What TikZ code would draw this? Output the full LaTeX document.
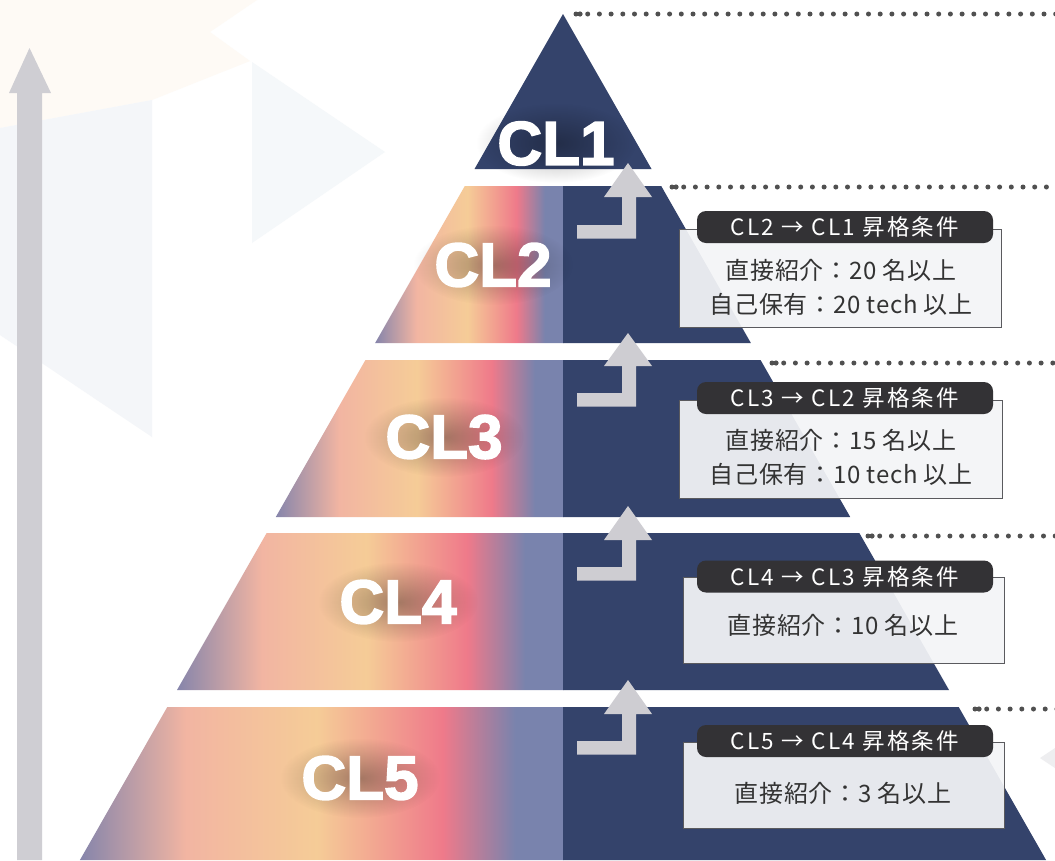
\documentclass[tikz,border=0pt]{standalone}
\usepackage{fontspec}
\setmainfont{Liberation Sans}
\newfontfamily\jp{Noto Sans CJK JP}
\newfontfamily\jphead{Noto Sans CJK JP}[LetterSpace=10]
\newfontfamily\jpbody{Noto Sans CJK JP}[LetterSpace=3]
\newfontfamily\clfont{Liberation Sans Bold}[FakeBold=2.5]
\usetikzlibrary{fadings,calc}
\definecolor{navy}{HTML}{34436B}
\definecolor{gL}{HTML}{8685AB}
\definecolor{gP}{HTML}{F2B5A2}
\definecolor{gY}{HTML}{F5CC97}
\definecolor{gR}{HTML}{EF7A8A}
\definecolor{gB}{HTML}{7983AD}
\definecolor{arrowgray}{HTML}{CECDD2}
\definecolor{biggray}{HTML}{CFCED3}
\definecolor{pillc}{HTML}{333235}
\definecolor{boxfill}{HTML}{F4F5F7}
\definecolor{boxline}{HTML}{5A5A5E}
\definecolor{txt}{HTML}{333333}
\definecolor{dotc}{HTML}{505050}
\definecolor{bgpeach}{HTML}{FEFAF5}
\definecolor{bgblue}{HTML}{F5F8FA}
\definecolor{bgblue2}{HTML}{F4F6F9}
\definecolor{bggray}{HTML}{EEEEF0}
\pgfdeclarehorizontalshading{bandgrad}{100bp}{color(0bp)=(gL); color(25bp)=(gL); color(36bp)=(gP); color(49.5bp)=(gY); color(62.5bp)=(gR); color(70bp)=(gB); color(75bp)=(gB); color(100bp)=(gB)}
\tikzfading[name=glow, inner color=transparent!68, outer color=transparent!100]
\begin{document}
\begin{tikzpicture}[x=1pt,y=-1pt,
  cl/.style={text=white, font=\clfont\fontsize{62}{62}\selectfont, inner sep=0pt},
  pill/.style={fill=pillc, rounded corners=9pt, minimum width=296pt, minimum height=32pt, inner sep=0pt, text=white, font=\jphead\fontsize{22.5}{22.5}\selectfont},
  infobox/.style={fill=boxfill, fill opacity=0.93, draw=boxline, line width=0.9pt, inner sep=0pt},
  body/.style={text=txt, font=\jpbody\fontsize{24}{24}\selectfont, inner sep=0pt},
  dotline/.style={dotc, line width=5pt, line cap=round, dash pattern=on 0pt off 11.7pt},
  grayarrow/.style={fill=arrowgray}]
\useasboundingbox (0,0) rectangle (1055,860);
\clip (0,0) rectangle (1055,860);
\fill[white] (0,0) rectangle (1055,860);
% faint background shapes
\fill[bgpeach] (0,0) -- (257,0) -- (210,32) -- (250,61) -- (152,100) -- (0,128) -- cycle;
\fill[bgblue] (252,62) -- (385,152) -- (252,243) -- cycle;
\fill[bgblue2] (0,128) -- (152,100) -- (152,437) -- (0,335) -- cycle;
\fill[bggray] (1040,758) -- (1055,748) -- (1055,768) -- cycle;
% big vertical arrow
\fill[biggray] (17,860) -- (17,93) -- (9,93) -- (29.5,48) -- (51,93) -- (42,93) -- (42,860) -- cycle;
% pyramid top
\fill[navy] (563,14) -- (651.5,169) -- (474.5,169) -- cycle;
% bands
\foreach \t/\b in {186/343,360/517,533/690,707/860} {
  \pgfmathsetmacro\lt{563-0.571*(\t-14)}
  \pgfmathsetmacro\lb{563-0.571*(\b-14)}
  \pgfmathsetmacro\rt{563+0.571*(\t-14)}
  \pgfmathsetmacro\rb{563+0.571*(\b-14)}
  \shade[shading=bandgrad] (\lb,\b) -- (\lt,\t) -- (563.5,\t) -- (563.5,\b) -- cycle;
  \fill[navy] (563,\t) -- (\rt,\t) -- (\rb,\b) -- (563,\b) -- cycle;
}
% glows behind labels
\foreach \x/\y in {556/143,493/265,444/437,398/602,360/778}
  \fill[black, path fading=glow] (\x,\y) ellipse (80pt and 40pt);
% labels
\node[cl] (cl1) at (556,143.5) {CL1};
\node[cl] (cl2) at (493,265) {CL2};
\node[cl] (cl3) at (444,437) {CL3};
\node[cl] (cl4) at (398,602) {CL4};
\node[cl] (cl5) at (360,778) {CL5};
% L-shaped arrows
\foreach \tip/\base/\bar in {163/197/225,333/366/393,506/540/567,680/714/741} {
  \pgfmathsetmacro\bb{\bar+13.5}
  \fill[grayarrow] (577,\bar) -- (622,\bar) -- (622,\base) -- (604,\base) -- (628,\tip) -- (652,\base) -- (636,\base) -- (636,\bb) -- (577,\bb) -- cycle;
}
% dotted lines
\foreach \i/\x/\y in {1/576/14,2/672/187,3/772/363,4/868/536,5/975/709} {
  \coordinate (ds\i) at (\x,\y);
  \coordinate (de\i) at (1060,\y);
  \draw[dotline] (ds\i) -- (de\i);
  \fill[dotc] ($(ds\i)+(4,0)$) circle (2.6pt);
}
% info boxes
\node[infobox, minimum width=322pt, minimum height=98pt] (box2) at (840,278) {};
\node[pill] (h2) at (845,227) {CL2 → CL1 昇格条件};
\node[body] (t2a) at (841,270) {直接紹介：20 名以上};
\node[body] (t2b) at (841,304) {自己保有：20 tech 以上};
\node[infobox, minimum width=323pt, minimum height=98pt] (box3) at (840.5,449) {};
\node[pill] (h3) at (845,398) {CL3 → CL2 昇格条件};
\node[body] (t3a) at (841,440) {直接紹介：15 名以上};
\node[body] (t3b) at (841,474) {自己保有：10 tech 以上};
\node[infobox, minimum width=321pt, minimum height=86pt] (box4) at (843.5,620) {};
\node[pill] (h4) at (845,576.5) {CL4 → CL3 昇格条件};
\node[body] (t4a) at (843,625) {直接紹介：10 名以上};
\node[infobox, minimum width=321pt, minimum height=86pt] (box5) at (843.5,785) {};
\node[pill] (h5) at (845,741) {CL5 → CL4 昇格条件};
\node[body] (t5a) at (843,793) {直接紹介：3 名以上};
\end{tikzpicture}
\end{document}
